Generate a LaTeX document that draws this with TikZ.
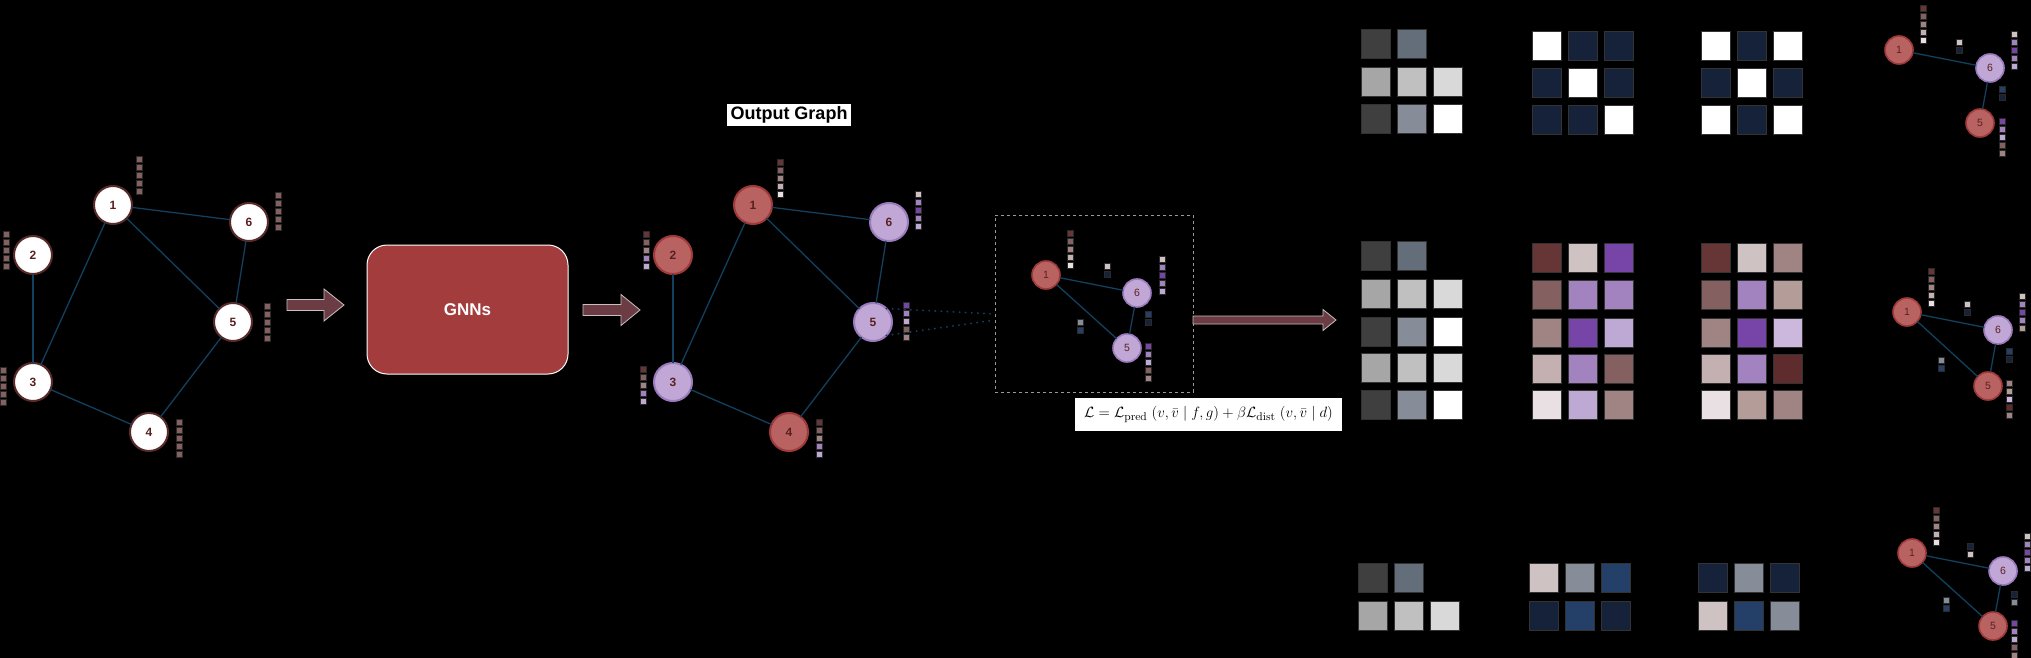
\documentclass[tikz,border=0pt]{standalone}
\usepackage{graphicx}
\usepackage{fontspec}
\newfontfamily\hv{Liberation Sans}
\definecolor{g1}{HTML}{3F3F3F}
\definecolor{g2}{HTML}{646E7A}
\definecolor{g3}{HTML}{A6A6A6}
\definecolor{g4}{HTML}{C0C0C0}
\definecolor{g5}{HTML}{D9D9D9}
\definecolor{gry}{HTML}{868C98}
\definecolor{navy}{HTML}{16213A}
\definecolor{blu}{HTML}{244068}
\definecolor{dbr}{HTML}{663535}
\definecolor{mbr}{HTML}{846060}
\definecolor{lbr}{HTML}{A08484}
\definecolor{pbr}{HTML}{C4B0B0}
\definecolor{wbr}{HTML}{E8E0E2}
\definecolor{lpg}{HTML}{CFC2C2}
\definecolor{mpu}{HTML}{A283C0}
\definecolor{dpu}{HTML}{7744A8}
\definecolor{lpu}{HTML}{BEA8D4}
\definecolor{lbrb}{HTML}{B49C98}
\definecolor{lla}{HTML}{CCB8DC}
\definecolor{ddb}{HTML}{5E2C2C}
\definecolor{nred}{HTML}{B86262}
\definecolor{nredb}{HTML}{A03A3A}
\definecolor{npur}{HTML}{C1A7D6}
\definecolor{npurb}{HTML}{9A7BBD}
\definecolor{inb}{HTML}{5A2A2A}
\definecolor{lblc}{HTML}{5A2020}
\definecolor{edgec}{HTML}{12405E}
\definecolor{gnnc}{HTML}{A33C3C}
\definecolor{arrc}{HTML}{6B3C44}
\definecolor{arrb}{HTML}{C8C0C0}
\definecolor{sqb}{HTML}{2A2A2A}
\definecolor{msqb}{HTML}{333333}
\newcommand\fv[3]{\foreach \cc [count=\ii from 0] in {#3} {\filldraw[sq, fill=\cc] ({#1-2.9},{#2+\ii*8.1}) rectangle ++(5.8,5.8);}}
\newcommand\mq[3]{\filldraw[msq, fill=#3] (#1,#2) rectangle ++(29,29);}
\newcommand\barrow[6]{\filldraw[barr] (#1,{#3-#4}) -- (#6,{#3-#4}) -- (#6,{#3-#5}) -- (#2,#3) -- (#6,{#3+#5}) -- (#6,{#3+#4}) -- (#1,{#3+#4}) -- cycle;}
\begin{document}
\begin{tikzpicture}[x=1pt,y=-1pt,
  every node/.style={inner sep=0pt, outer sep=0pt},
  ed/.style={draw=edgec, line width=1.3pt},
  sq/.style={draw=sqb, line width=0.5pt},
  msq/.style={draw=msqb, line width=0.8pt},
  barr/.style={fill=arrc, draw=arrb, line width=0.8pt},
  big/.style={circle, minimum size=38pt, line width=2pt, text=lblc, font=\hv\bfseries\fontsize{12}{12}\selectfont},
  small/.style={circle, minimum size=28pt, line width=1.6pt, text=lblc, font=\hv\fontsize{10.5}{10.5}\selectfont},
  gin/.style={big, fill=white, draw=inb},
  gred/.style={big, fill=nred, draw=nredb},
  gpur/.style={big, fill=npur, draw=npurb},
  sred/.style={small, fill=nred, draw=nredb},
  spur/.style={small, fill=npur, draw=npurb},
]
\fill[black] (0,0) rectangle (2031,658);
\useasboundingbox (0,0) rectangle (2031,658);

% ---------- input graph ----------
\node[gin] (i1) at (113,205) {1};
\node[gin] (i2) at (33,255) {2};
\node[gin] (i3) at (33,382) {3};
\node[gin] (i4) at (149,432) {4};
\node[gin] (i5) at (233,322) {5};
\node[gin] (i6) at (249,222) {6};
\draw[ed] (i1) -- (i6); \draw[ed] (i1) -- (i5); \draw[ed] (i1) -- (i3);
\draw[ed] (i6) -- (i5); \draw[ed] (i2) -- (i3); \draw[ed] (i3) -- (i4); \draw[ed] (i4) -- (i5);
\fv{139}{156}{mbr,mbr,mbr,mbr,mbr}
\fv{278}{192}{mbr,mbr,mbr,mbr,mbr}
\fv{6}{231}{mbr,mbr,mbr,mbr,mbr}
\fv{267}{303}{mbr,mbr,mbr,mbr,mbr}
\fv{3.5}{367}{mbr,mbr,mbr,mbr,mbr}
\fv{179}{419}{mbr,mbr,mbr,mbr,mbr}

% ---------- arrows and GNN ----------
\barrow{287}{344}{305}{5.5}{16}{324}
\node[rounded corners=20pt, fill=gnnc, draw=white, line width=1pt, minimum width=201pt, minimum height=129pt, text=white, font=\hv\bfseries\fontsize{17}{17}\selectfont] (gnn) at (467.5,309.5) {GNNs};
\barrow{583}{640}{310}{5.5}{15.5}{621}

% ---------- output graph ----------
\node[fill=white, text=black, minimum width=124pt, minimum height=22pt, font=\hv\bfseries\fontsize{18}{18}\selectfont] (otitle) at (789,115) {Output Graph};
\node[gred] (o1) at (753,205) {1};
\node[gred] (o2) at (673,255) {2};
\node[gpur] (o3) at (673,382) {3};
\node[gred] (o4) at (789,432) {4};
\node[gpur] (o5) at (873,322) {5};
\node[gpur] (o6) at (889,222) {6};
\draw[ed] (o1) -- (o6); \draw[ed] (o1) -- (o5); \draw[ed] (o1) -- (o3);
\draw[ed] (o6) -- (o5); \draw[ed] (o2) -- (o3); \draw[ed] (o3) -- (o4); \draw[ed] (o4) -- (o5);
\fv{780}{159}{dbr,mbr,lbr,pbr,wbr}
\fv{918}{191}{lpg,mpu,dpu,mpu,lpu}
\fv{646}{231}{dbr,mbr,lbr,mpu,lpu}
\fv{906}{302}{dpu,mpu,lpu,mbr,lbr}
\fv{643}{366}{dbr,mbr,lbr,mpu,lpu}
\fv{819}{419}{dbr,mbr,lbr,mpu,lpu}

% ---------- zoomed subgraph ----------
\node[draw=gray!80, dashed, line width=0.8pt, minimum width=198pt, minimum height=177pt] (zbox) at (1094,303.5) {};
\coordinate (zA) at (995,314);
\coordinate (zB) at (995,320);
\draw[draw=edgec, line width=2pt, line cap=round, dash pattern=on 0.1pt off 6pt] (o5.45) -- (zA);
\draw[draw=edgec, line width=2pt, line cap=round, dash pattern=on 0.1pt off 6pt] (o5.-45) -- (zB);
\node[sred] (s1) at (1046,275) {1};
\node[spur] (s6) at (1137,293) {6};
\node[spur] (s5) at (1127,348) {5};
\draw[ed] (s1) -- (s6); \draw[ed] (s1) -- (s5); \draw[ed] (s6) -- (s5);
\fv{1070}{230}{dbr,mbr,lbr,pbr,wbr}
\fv{1107}{263}{lpg,navy}
\fv{1162}{256}{lpg,mpu,dpu,mpu,lpu}
\fv{1148}{311}{blu,navy}
\fv{1080}{319}{gry,blu}
\fv{1148}{343}{dpu,mpu,lpu,mbr,lbr}
\node[fill=white, text=black, minimum width=267pt, minimum height=33pt, font=\fontsize{13}{15}\selectfont] (loss) at (1208.5,414.5) {\scalebox{1.24}{$\mathcal{L}=\mathcal{L}_{\mathrm{pred}}\;(v,\bar{v}\mid f,g)+\beta\mathcal{L}_{\mathrm{dist}}\;(v,\bar{v}\mid d)$}};
\barrow{1193}{1336}{320}{4}{10.5}{1323}

% ---------- matrices: top ----------
\mq{1361}{29}{g1} \mq{1397}{29}{g2}
\mq{1361}{67}{g3} \mq{1397}{67}{g4} \mq{1433}{67}{g5}
\mq{1361}{104}{g1} \mq{1397}{104}{gry} \mq{1433}{104}{white}
\mq{1532}{31}{white} \mq{1568}{31}{navy} \mq{1604}{31}{navy}
\mq{1532}{68}{navy} \mq{1568}{68}{white} \mq{1604}{68}{navy}
\mq{1532}{105}{navy} \mq{1568}{105}{navy} \mq{1604}{105}{white}
\mq{1701}{31}{white} \mq{1737}{31}{navy} \mq{1773}{31}{white}
\mq{1701}{68}{navy} \mq{1737}{68}{white} \mq{1773}{68}{navy}
\mq{1701}{105}{white} \mq{1737}{105}{navy} \mq{1773}{105}{white}

% ---------- matrices: middle ----------
\mq{1361}{241}{g1} \mq{1397}{241}{g2}
\mq{1361}{279}{g3} \mq{1397}{279}{g4} \mq{1433}{279}{g5}
\mq{1361}{317}{g1} \mq{1397}{317}{gry} \mq{1433}{317}{white}
\mq{1361}{353}{g3} \mq{1397}{353}{g4} \mq{1433}{353}{g5}
\mq{1361}{390}{g1} \mq{1397}{390}{gry} \mq{1433}{390}{white}
\mq{1532}{243}{dbr} \mq{1568}{243}{lpg} \mq{1604}{243}{dpu}
\mq{1532}{280}{mbr} \mq{1568}{280}{mpu} \mq{1604}{280}{mpu}
\mq{1532}{318}{lbr} \mq{1568}{318}{dpu} \mq{1604}{318}{lpu}
\mq{1532}{354}{pbr} \mq{1568}{354}{mpu} \mq{1604}{354}{mbr}
\mq{1532}{390}{wbr} \mq{1568}{390}{lpu} \mq{1604}{390}{lbr}
\mq{1701}{243}{dbr} \mq{1737}{243}{lpg} \mq{1773}{243}{lbr}
\mq{1701}{280}{mbr} \mq{1737}{280}{mpu} \mq{1773}{280}{lbrb}
\mq{1701}{318}{lbr} \mq{1737}{318}{dpu} \mq{1773}{318}{lla}
\mq{1701}{354}{pbr} \mq{1737}{354}{mpu} \mq{1773}{354}{ddb}
\mq{1701}{390}{wbr} \mq{1737}{390}{lbrb} \mq{1773}{390}{lbr}

% ---------- matrices: bottom ----------
\mq{1358}{563}{g1} \mq{1394}{563}{g2}
\mq{1358}{601}{g3} \mq{1394}{601}{g4} \mq{1430}{601}{g5}
\mq{1529}{563}{lpg} \mq{1565}{563}{gry} \mq{1601}{563}{blu}
\mq{1529}{601}{navy} \mq{1565}{601}{blu} \mq{1601}{601}{navy}
\mq{1698}{563}{navy} \mq{1734}{563}{gry} \mq{1770}{563}{navy}
\mq{1698}{601}{lpg} \mq{1734}{601}{blu} \mq{1770}{601}{gry}

% ---------- right graphs ----------
\node[sred] (a1) at (1899,50) {1};
\node[spur] (a6) at (1990,68) {6};
\node[sred] (a5) at (1980,123) {5};
\draw[ed] (a1) -- (a6); \draw[ed] (a6) -- (a5);
\fv{1923}{5}{dbr,mbr,lbr,pbr,wbr}
\fv{1959}{39}{lpg,navy}
\fv{2014}{31}{lpg,mpu,dpu,mpu,lpu}
\fv{2002}{86}{blu,navy}
\fv{2002}{118}{dpu,mpu,lpu,mbr,lbr}

\node[sred] (b1) at (1907,312) {1};
\node[spur] (b6) at (1998,330) {6};
\node[sred] (b5) at (1988,386) {5};
\draw[ed] (b1) -- (b6); \draw[ed] (b1) -- (b5); \draw[ed] (b6) -- (b5);
\fv{1931}{268}{dbr,mbr,lbr,pbr,wbr}
\fv{1967}{301}{lpg,navy}
\fv{2022}{293}{lpg,mpu,dpu,mpu,lbrb}
\fv{2009}{348}{blu,navy}
\fv{1941}{357}{gry,blu}
\fv{2009}{380}{lbr,lbrb,lla,ddb,lbr}

\node[sred] (c1) at (1912,553) {1};
\node[spur] (c6) at (2003,571) {6};
\node[sred] (c5) at (1993,626) {5};
\draw[ed] (c1) -- (c6); \draw[ed] (c1) -- (c5); \draw[ed] (c6) -- (c5);
\fv{1936}{507}{dbr,mbr,lbr,pbr,wbr}
\fv{1970}{543}{navy,lpg}
\fv{2027}{533}{lpg,mpu,dpu,mpu,lpu}
\fv{2014}{591}{navy,gry}
\fv{1946}{597}{gry,blu}
\fv{2014}{620}{dpu,mpu,lpu,mbr,lbr}
\end{tikzpicture}
\end{document}
